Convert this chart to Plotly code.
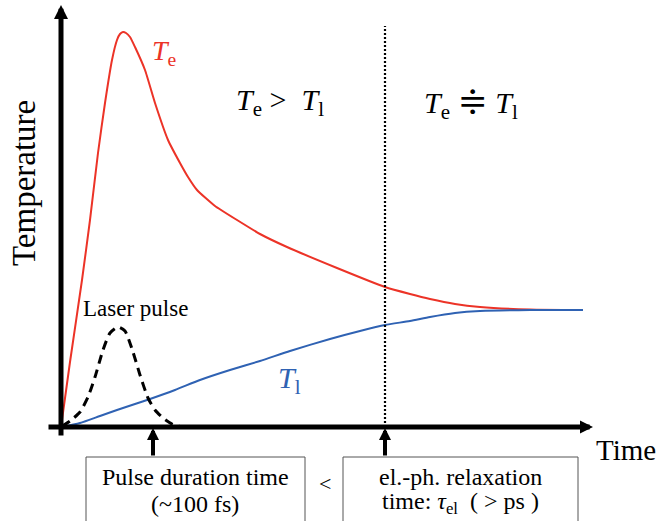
import plotly.graph_objects as go

# Electron temperature Te (time, temperature) in arbitrary units
te_time = [0, 9, 21, 29, 37, 44, 51, 56, 59, 62, 65, 69, 74, 84, 94, 107, 119, 127, 136,
           154, 176, 199, 226, 276, 324, 349, 369, 394, 419, 469, 522]
te_temp = [0, 65, 147, 207, 274, 324, 367, 387, 393, 395, 394, 390, 380, 357, 324, 287, 264,
           250, 237, 221, 207, 193, 180, 159, 140, 133, 128, 123, 120, 117.5, 117]

# Lattice temperature Tl
tl_time = [0, 19, 39, 56, 74, 89, 114, 139, 169, 199, 229, 269, 299, 324, 349, 369,
           394, 419, 469, 522]
tl_temp = [0, 4, 11, 17, 23, 28, 37, 47, 57, 66, 76, 88, 96, 102, 106, 110, 114,
           116, 117, 117]

# Laser pulse envelope
pulse_time = [1, 9, 19, 27, 34, 42, 49, 57, 64, 72, 79, 87, 94, 102, 111, 119]
pulse_amp = [1, 6, 15, 30, 50, 77, 94, 100, 96, 75, 52, 29, 17, 9, 3, 0.5]

pulse_mark = 92      # pulse duration marker on time axis
relax_mark = 324     # el.-ph. relaxation time marker

FONT = "Liberation Serif, Times New Roman, DejaVu Serif, serif"
RED = "#ec3327"
BLUE = "#2f62b3"

fig = go.Figure()
fig.add_trace(go.Scatter(x=te_time, y=te_temp, mode="lines",
                         line=dict(color=RED, width=2, shape="spline", smoothing=0.5)))
fig.add_trace(go.Scatter(x=tl_time, y=tl_temp, mode="lines",
                         line=dict(color=BLUE, width=2, shape="spline", smoothing=0.6)))
fig.add_trace(go.Scatter(x=pulse_time, y=pulse_amp, mode="lines",
                         line=dict(color="black", width=3, dash="9px,6px",
                                   shape="spline", smoothing=0.6)))

shapes = [
    dict(type="line", x0=relax_mark, x1=relax_mark, y0=0, y1=401,
         line=dict(color="black", width=2.2, dash="2px,2px")),
    dict(type="rect", x0=25, x1=244, y0=-30, y1=-110,
         line=dict(color="#555555", width=1)),
    dict(type="rect", x0=282, x1=517, y0=-30, y1=-110,
         line=dict(color="#555555", width=1)),
]

ann = []
ann.append(dict(x=0, y=422, ax=0, ay=-10, xref="x", yref="y", axref="x", ayref="y",
                text="", showarrow=True, arrowhead=2, arrowsize=0.56, arrowwidth=5,
                arrowcolor="black"))
ann.append(dict(x=532, y=0, ax=-14, ay=0, xref="x", yref="y", axref="x", ayref="y",
                text="", showarrow=True, arrowhead=2, arrowsize=0.52, arrowwidth=5,
                arrowcolor="black"))
for xm in (pulse_mark, relax_mark):
    ann.append(dict(x=xm, y=-1, ax=xm, ay=-30, xref="x", yref="y", axref="x", ayref="y",
                    text="", showarrow=True, arrowhead=2, arrowsize=0.6, arrowwidth=4,
                    arrowcolor="black"))

def txt(x, y, s, size, color="black", angle=0):
    ann.append(dict(x=x, y=y, xref="x", yref="y", text=s, showarrow=False,
                    textangle=angle, font=dict(family=FONT, size=size, color=color),
                    xanchor="center", yanchor="middle"))

txt(-37, 244, "Temperature", 33, angle=-90)
txt(565, -23, "Time", 29)
txt(103, 375, "<i>T</i><sub>e</sub>", 28, color=RED)
txt(219, 325, "<i>T</i><sub>e</sub> &gt;  <i>T</i><sub>l</sub>", 30)
txt(410, 325, "<i>T</i><sub>e</sub> <span style='font-size:36px'>≑</span> <i>T</i><sub>l</sub>", 30)
txt(228, 47, "<i>T</i><sub>l</sub>", 30, color=BLUE)
txt(74, 119, "Laser pulse", 23)
txt(134, -50, "Pulse duration time", 24)
txt(134, -77, "(~100 fs)", 24)
txt(264, -56, "&lt;", 22)
txt(399, -50, "el.-ph. relaxation", 24)
txt(399, -76, "time: <i>τ</i><sub>el</sub>  ( &gt; ps )", 24)

fig.update_layout(
    width=658, height=521,
    margin=dict(l=0, r=0, t=0, b=0),
    paper_bgcolor="white", plot_bgcolor="white",
    showlegend=False,
    font=dict(family=FONT),
    xaxis=dict(range=[-61, 597], visible=False, fixedrange=True),
    yaxis=dict(range=[-94, 427], visible=False, fixedrange=True),
    shapes=shapes, annotations=ann,
)

fig.write_html("out.html", config={"displayModeBar": False},
               post_script="document.body.style.margin='0';document.body.style.overflow='hidden';")
